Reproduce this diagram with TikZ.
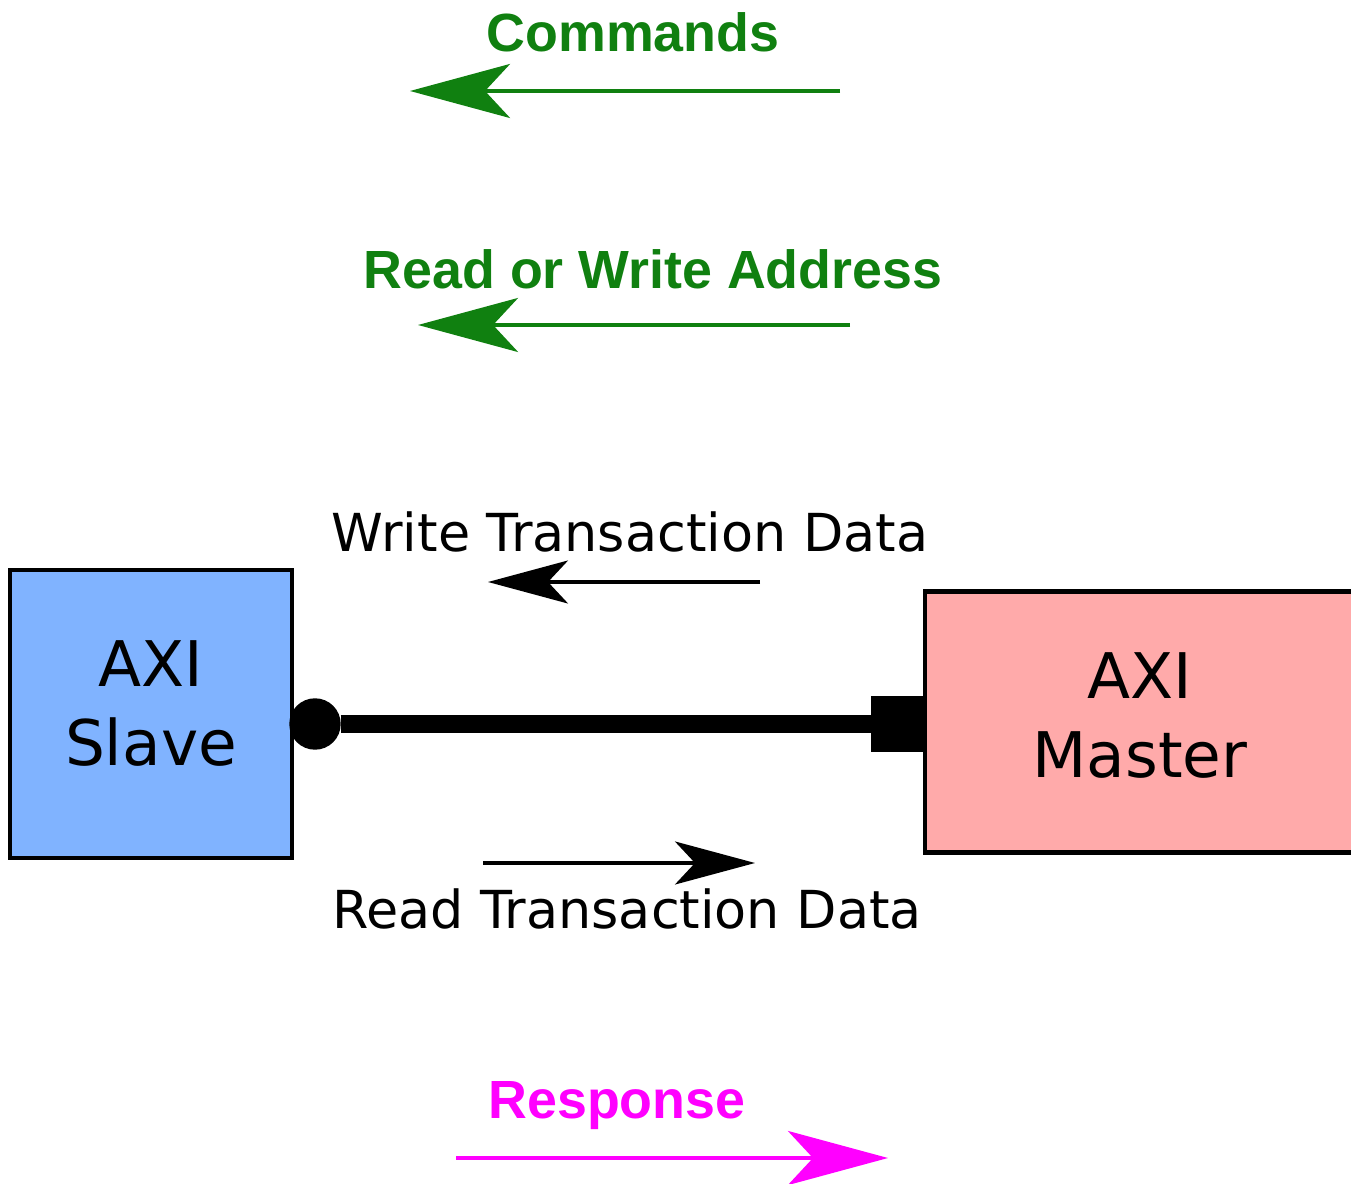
\documentclass[tikz,border=0pt]{standalone}
\usepackage{fontspec}
\setmainfont{DejaVu Sans}
\newfontfamily\headfont{Liberation Sans}
\usetikzlibrary{arrows.meta,positioning}
\definecolor{cmdgreen}{RGB}{16,128,16}
\definecolor{respmag}{RGB}{255,0,255}
\definecolor{slaveblue}{RGB}{128,179,255}
\definecolor{masterpink}{RGB}{255,170,170}

\begin{document}
\begin{tikzpicture}[
	bighead/.style={-{Stealth[length=1cm,width=0.54cm,inset=0.25cm]},line width=1.1pt},
	smallhead/.style={-{Stealth[length=0.8cm,width=0.43cm,inset=0.2cm]},line width=0.9pt},
	boldlbl/.style={anchor=base,font=\headfont\bfseries\fontsize{15.3}{18}\selectfont},
	plainlbl/.style={anchor=base,font=\fontsize{14.9}{17}\selectfont},
	unit/.style={draw,line width=1.2pt,align=center,inner sep=0pt,font=\fontsize{17.9}{22.5}\selectfont}]
	\clip (0,0) rectangle (13.51,11.83);
	\node[unit,fill=slaveblue,minimum width=2.82cm,minimum height=2.88cm,text depth=0.22cm] (slave) at (1.51,4.69) {AXI\\Slave};
	\node[unit,fill=masterpink,minimum width=4.30cm,minimum height=2.61cm,text depth=0.14cm] (master) at (11.40,4.61) {AXI\\Master};
	\node[draw,circle,fill,minimum size=0.5cm,inner sep=0pt] (dot) at (3.15,4.59) {};
	\node[draw,fill,minimum width=0.53cm,minimum height=0.54cm,inner sep=0pt] (plug) at (8.985,4.59) {};
	\draw[line width=5.2pt] (dot) -- (plug);
	\node[boldlbl,text=cmdgreen] (cmd) at (6.33,11.31) {Commands};
	\coordinate (cmdR) at (8.40,10.92);
	\coordinate (cmdL) at (4.10,10.92);
	\draw[bighead,cmdgreen] (cmdR) -- (cmdL);
	\node[boldlbl,text=cmdgreen] (addr) at (6.53,8.94) {Read or Write Address};
	\coordinate (addrR) at (8.50,8.58);
	\coordinate (addrL) at (4.18,8.58);
	\draw[bighead,cmdgreen] (addrR) -- (addrL);
	\node[plainlbl] (wdata) at (6.30,6.31) {Write Transaction Data};
	\coordinate (wdataR) at (7.60,6.01);
	\coordinate (wdataL) at (4.88,6.01);
	\draw[smallhead] (wdataR) -- (wdataL);
	\coordinate (rdataL) at (4.83,3.20);
	\coordinate (rdataR) at (7.55,3.20);
	\draw[smallhead] (rdataL) -- (rdataR);
	\node[plainlbl] (rdata) at (6.27,2.55) {Read Transaction Data};
	\node[boldlbl,text=respmag] (resp) at (6.17,0.65) {Response};
	\coordinate (respL) at (4.56,0.25);
	\coordinate (respR) at (8.88,0.25);
	\draw[bighead,respmag] (respL) -- (respR);
\end{tikzpicture}
\end{document}
